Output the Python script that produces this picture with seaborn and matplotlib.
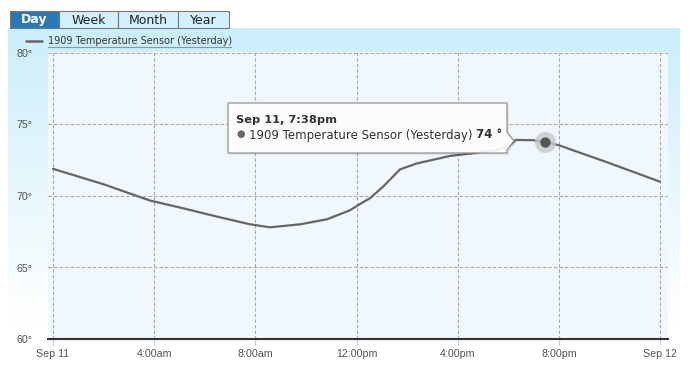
import numpy as np
import pandas as pd
import matplotlib
matplotlib.use("Agg")
import matplotlib.pyplot as plt
from matplotlib.patches import Rectangle, Polygon
import seaborn as sns

# readings from the sensor, hours after midnight Sep 11
hours = [0, 2, 3.84, 5.15, 6.48, 7.79, 8.58, 9.77, 10.83, 11.74, 12.14, 12.53,
         13.05, 13.72, 14.39, 15.7, 16.6, 17.6, 18.1, 18.3, 19.0, 19.47, 20,
         22, 24]
temps = [71.9, 70.82, 69.68, 69.14, 68.56, 68.02, 67.81, 68.02, 68.37, 69.0,
         69.44, 69.84, 70.65, 71.86, 72.28, 72.8, 72.99, 73.25, 73.6, 73.92,
         73.9, 73.77, 73.55, 72.3, 71.0]

x_ticks = [0, 4, 8, 12, 16, 20, 24]
x_labels = ["Sep 11", "4:00am", "8:00am", "12:00pm", "4:00pm", "8:00pm", "Sep 12"]
y_ticks = [60, 65, 70, 75, 80]
y_labels = ["60°", "65°", "70°", "75°", "80°"]

tabs = ["Day", "Week", "Month", "Year"]
series_name = "1909 Temperature Sensor (Yesterday)"
hover_time = 19.47
hover_temp = 73.77
hover_title = "Sep 11, 7:38pm"
hover_value = "74 °"

W, H = 690, 368

sns.set_style("white")
plt.rcParams["font.family"] = ["Liberation Sans", "DejaVu Sans"]

fig = plt.figure(figsize=(W / 100, H / 100), dpi=100)


def fx(x):
    return x / W


def fy(y):
    return 1 - y / H


# gradient panel behind the chart
bg = fig.add_axes([fx(8), 0, fx(680 - 8), fy(28)], zorder=0)
grad = np.linspace(0, 1, 256).reshape(-1, 1)
top = np.array(matplotlib.colors.to_rgb("#cbeefb"))
bot = np.array([1.0, 1.0, 1.0])
img = top + (bot - top) * np.clip(grad * 1.15, 0, 1)[..., None]
bg.imshow(img.reshape(256, 1, 3), aspect="auto", extent=[0, 1, 0, 1])
bg.axis("off")

# main chart
ax = fig.add_axes([fx(48), fy(339), fx(620), (339 - 52) / H], zorder=1)
ax.set_facecolor("#f0f7fd")
df = pd.DataFrame({"hour": hours, "temp": temps})
sns.lineplot(data=df, x="hour", y="temp", color="#666666", linewidth=1.6, ax=ax,
             zorder=3)

px_per_h = 607 / 24
px_per_deg = 286 / 20
ax.set_xlim(-5 / px_per_h, (620 - 5) / px_per_h)
ax.set_ylim(60, 60 + 287 / px_per_deg)
ax.set_xticks(x_ticks)
ax.set_xticklabels(x_labels)
ax.set_yticks(y_ticks)
ax.set_yticklabels(y_labels)
ax.set_xlabel("")
ax.set_ylabel("")
for v in x_ticks:
    ax.axvline(v, color="#a8a8a8", lw=0.8, ls=(0, (3, 2)), zorder=1)
for v in y_ticks[1:]:
    ax.axhline(v, color="#a8a8a8", lw=0.8, ls=(0, (3, 2)), zorder=1)
for s in ["top", "left", "right"]:
    ax.spines[s].set_visible(False)
ax.spines["bottom"].set_color("#333333")
ax.spines["bottom"].set_linewidth(1.5)
ax.tick_params(axis="x", length=4, width=1, color="#c0d0e0", labelsize=7.7,
               labelcolor="#555555", pad=3, direction="out", bottom=True)
ax.tick_params(axis="y", length=0, labelsize=7.7, labelcolor="#555555", pad=11)

# hover marker
ax.scatter([hover_time], [hover_temp], s=230, color="#c8c8c8", alpha=0.8,
           zorder=4, linewidths=0)
ax.scatter([hover_time], [hover_temp], s=55, color="#555555", zorder=5,
           linewidths=0)

# overlay in pixel coordinates
ov = fig.add_axes([0, 0, 1, 1], zorder=3)
ov.set_xlim(0, W)
ov.set_ylim(H, 0)
ov.axis("off")

# tabs
tab_edges = [10, 59, 118, 178, 229]
for i, name in enumerate(tabs):
    x0, x1 = tab_edges[i], tab_edges[i + 1]
    active = i == 0
    ov.add_patch(Rectangle((x0, 11), x1 - x0, 17,
                           facecolor="#2b78b5" if active else "#d3f1fc",
                           edgecolor="#6f7b85", lw=0.8))
    ov.text((x0 + x1) / 2, 20, name, ha="center", va="center", fontsize=9,
            color="white" if active else "#222222",
            fontweight="bold" if active else "normal",
            family=["DejaVu Sans"])

# legend
ov.plot([26, 42], [41, 41], color="#666666", lw=1.8)
ov.text(48, 41, series_name, ha="left", va="center", fontsize=7.0,
        color="#333333", family=["DejaVu Sans"])
ov.plot([48, 231], [46.5, 46.5], color="#8a9aa5", lw=0.9)

# tooltip
tip = [(228, 103), (507, 103), (507, 132), (514, 141), (507, 150),
       (507, 153), (228, 153)]
shadow = [(x + 2, y + 2) for x, y in tip]
ov.add_patch(Polygon(shadow, closed=True, facecolor="#000000", alpha=0.08,
                     edgecolor="none"))
ov.add_patch(Polygon(tip, closed=True, facecolor="white", alpha=0.92,
                     edgecolor="#8a8a8a", lw=0.9))
ov.text(236, 120, hover_title, ha="left", va="center", fontsize=8.2,
        fontweight="bold", color="#333333", family=["DejaVu Sans"])
ov.text(236, 134.5, "●", ha="left", va="center", fontsize=7, color="#666666",
        family=["DejaVu Sans"])
t1 = ov.text(249, 135, series_name + " ", ha="left", va="center",
             fontsize=8.5, color="#333333", family=["DejaVu Sans"])
fig.canvas.draw()
bb = t1.get_window_extent()
x_end = ov.transData.inverted().transform((bb.x1, bb.y0))[0]
ov.text(x_end, 135, hover_value, ha="left", va="center", fontsize=8.5,
        fontweight="bold", color="#333333", family=["DejaVu Sans"])

fig.savefig("out.png", dpi=100)
